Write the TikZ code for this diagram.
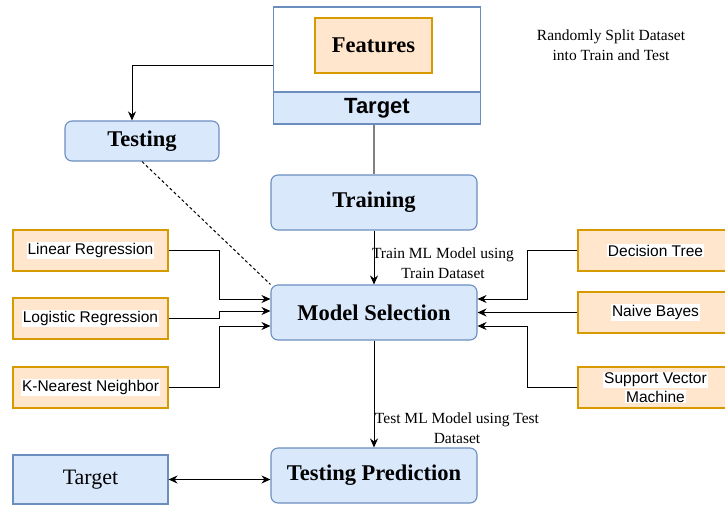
\documentclass[tikz,border=0pt]{standalone}
\usepackage{fontspec}
\setmainfont{Liberation Serif}
\setsansfont{Liberation Sans}
\usetikzlibrary{arrows.meta}
\definecolor{bluefill}{HTML}{DAE8FC}
\definecolor{blueline}{HTML}{6C8EBF}
\definecolor{orangefill}{HTML}{FFE6CC}
\definecolor{orangeline}{HTML}{D79B00}
\newcommand{\whitebg}[1]{{\setlength{\fboxsep}{1pt}\colorbox{white}{#1}}}
\tikzset{
    >={Stealth[length = 9pt, width = 8pt]},
    bluebox/.style = {draw = blueline, fill = bluefill, line width = 1.1pt, inner sep = 0pt},
    roundbox/.style = {bluebox, rounded corners = 7pt, minimum width = 206, minimum height = 55},
    algobox/.style = {draw = orangeline, fill = orangefill, line width = 1.1pt, minimum width = 155, minimum height = 41, inner sep = 0pt, font = \sffamily\fontsize{15.5}{19}\selectfont, align = center},
    heading/.style = {font = \bfseries\fontsize{22.5}{26}\selectfont},
    conn/.style = {line width = 1pt, ->},
    note/.style = {font = \fontsize{15.5}{20}\selectfont, align = center}
}
\begin{document}
\begin{tikzpicture}[x = 1pt, y = -1pt]
            \useasboundingbox (0,0) rectangle (725,504);
            \clip (0,0) rectangle (725,504);
            \node[bluebox, fill = white, minimum width = 206.5, minimum height = 117] (dataset) at (377,65.5) {};
            \node[bluebox, minimum width = 206.5, minimum height = 32, font = \sffamily\bfseries\fontsize{22}{26}\selectfont] (target) at (377,108) {Target};
            \node[algobox, minimum width = 117, minimum height = 55, heading] (features) at (373.5,45.5) {Features};
            \node[note] (split) at (611,45) {Randomly Split Dataset\\into Train and Test};
            \node[bluebox, rounded corners = 7pt, minimum width = 154, minimum height = 40, heading] (testing) at (142,141) {Testing};
            \node[roundbox, heading] (training) at (374,202.5) {Training};
            \node[roundbox, heading] (ms) at (374,312.5) {Model Selection};
            \node[roundbox, heading] (tp) at (374,475.5) {Testing Prediction};
            \node[bluebox, minimum width = 155, minimum height = 49, font = \fontsize{22}{26}\selectfont] (targetb) at (90.5,479.5) {Target};
            \node[algobox] (linreg) at (90.5,250.5) {\whitebg{Linear Regression}};
            \node[algobox] (logreg) at (90.5,318.5) {\whitebg{Logistic Regression}};
            \node[algobox] (knn) at (90.5,387.5) {\whitebg{K-Nearest Neighbor}};
            \node[algobox] (dtree) at (655.5,250.5) {\whitebg{Decision Tree}};
            \node[algobox] (naive) at (655.5,312.5) {\whitebg{Naive Bayes}};
            \node[algobox] (svm) at (655.5,387.5) {\whitebg{Support Vector}\\\whitebg{Machine}};
            \node[note] (trainnote) at (443,263) {Train ML Model using\\Train Dataset};
            \node[note] (testnote) at (457,428) {Test ML Model using Test\\Dataset};
            \draw[conn] (dataset.west) -| ([xshift = -10]testing.north);
            \draw[line width = 1.3pt, gray] (training.north |- target.south) -- (training.north);
            \draw[conn] (training) -- (ms);
            \draw[conn] (ms) -- (tp);
            \draw[line width = 1pt, <->] (targetb.east) -- (tp.west |- targetb.east);
            \draw[line width = 1pt, dash pattern = on 3pt off 2.5pt] (testing.south) -- (ms.north west);
            \draw[conn] (linreg.east) -- ++(51,0) |- ([yshift = 13.5]ms.west);
            \draw[conn] (logreg.east) -- ++(51,0) |- ([yshift = 1.5]ms.west);
            \draw[conn] (knn.east) -- ++(51,0) |- ([yshift = -13.5]ms.west);
            \draw[conn] (dtree.west) -- ++(-50,0) |- ([yshift = 13.5]ms.east);
            \draw[conn] (naive.west) -- (ms.east |- naive.west);
            \draw[conn] (svm.west) -- ++(-50,0) |- ([yshift = -13.5]ms.east);
\end{tikzpicture}
\end{document}
